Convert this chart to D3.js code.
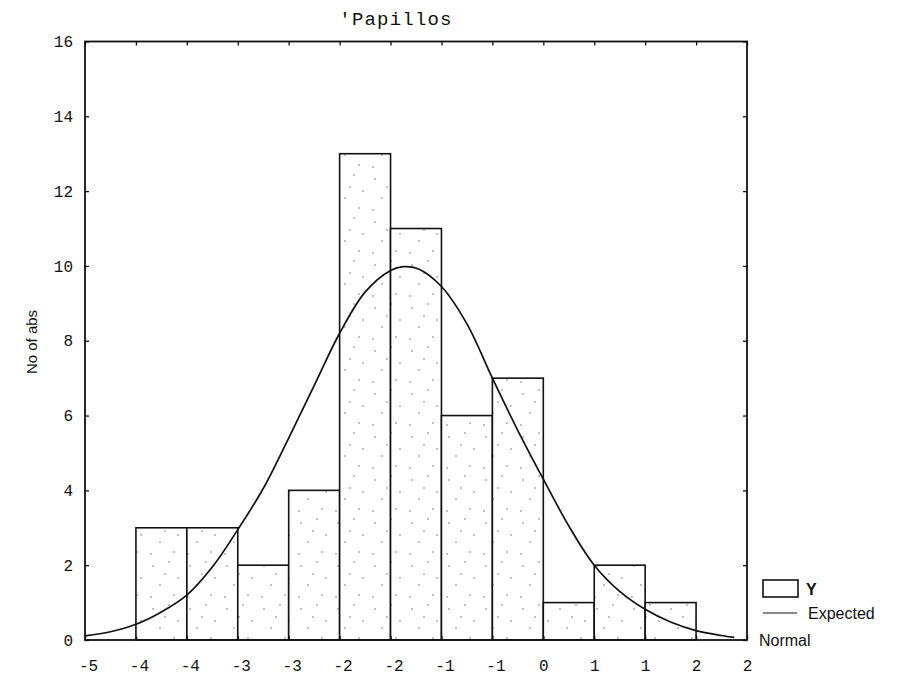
<!DOCTYPE html>
<html>
<head>
<meta charset="utf-8">
<script src="https://cdn.jsdelivr.net/npm/d3@7"></script>
<style>
  body { margin: 0; background: #fff; }
  svg { display: block; }
</style>
</head>
<body>
<div id="chart-container"></div>
<script>
'use strict';

// bin edge labels as printed under the axis (edges 0..13)
const edgeLabels = ['-5', '-4', '-4', '-3', '-3', '-2', '-2', '-1', '-1', '0', '1', '1', '2', '2'];
// observed counts per bin (13 bins between the edges)
const counts = [0, 3, 3, 2, 4, 13, 11, 6, 7, 1, 2, 1, 0];
const yTicks = [0, 2, 4, 6, 8, 10, 12, 14, 16];
// expected normal curve (position in bin-edge units)
const curvePos = [0, 0.5, 1, 1.5, 2, 2.5, 3, 3.5, 4, 4.5, 5, 5.5, 6, 6.25, 6.55, 7, 7.5, 8, 8.5, 9, 9.5, 10, 10.5, 11, 11.5, 12, 12.5, 12.75];
const curveVals = [0.11, 0.22, 0.42, 0.75, 1.2, 1.95, 2.95, 4.05, 5.4, 6.8, 8.2, 9.3, 9.88, 9.98, 9.92, 9.45, 8.45, 7.0, 5.6, 4.3, 3.05, 2.0, 1.3, 0.82, 0.48, 0.25, 0.12, 0.07];

const width = 898;
const height = 681;
const plotLeft = 85, plotRight = 747, plotTop = 41.5, plotBottom = 640;

const svg = d3.select('#chart-container')
  .append('svg')
  .attr('width', width)
  .attr('height', height);

// faint speckle texture like the scan
const defs = svg.append('defs');
const pat = defs.append('pattern')
  .attr('id', 'speckle')
  .attr('patternUnits', 'userSpaceOnUse')
  .attr('width', 37).attr('height', 43);
pat.append('rect').attr('width', 37).attr('height', 43).attr('fill', '#fff');
[[5, 7], [21, 3], [30, 19], [12, 26], [26, 36], [3, 38], [17, 15]].forEach(function(p) {
  pat.append('circle').attr('cx', p[0]).attr('cy', p[1]).attr('r', 0.8).attr('fill', '#777');
});

const x = d3.scaleLinear().domain([0, 13]).range([plotLeft, plotRight]);
const y = d3.scaleLinear().domain([0, 16]).range([plotBottom, plotTop]);

// bars
svg.append('g')
  .selectAll('rect')
  .data(counts.map(function(c, i) { return { i: i, c: c }; }).filter(function(d) { return d.c > 0; }))
  .enter()
  .append('rect')
  .attr('x', function(d) { return x(d.i); })
  .attr('y', function(d) { return y(d.c); })
  .attr('width', function(d) { return x(d.i + 1) - x(d.i); })
  .attr('height', function(d) { return y(0) - y(d.c); })
  .attr('fill', 'url(#speckle)')
  .attr('stroke', '#111')
  .attr('stroke-width', 1.6);

// expected normal curve
const line = d3.line()
  .x(function(d) { return x(d[0]); })
  .y(function(d) { return y(d[1]); })
  .curve(d3.curveCatmullRom);

svg.append('path')
  .datum(curvePos.map(function(p, i) { return [p, curveVals[i]]; }))
  .attr('d', line)
  .attr('fill', 'none')
  .attr('stroke', '#111')
  .attr('stroke-width', 1.7);

// frame
svg.append('rect')
  .attr('x', plotLeft).attr('y', plotTop)
  .attr('width', plotRight - plotLeft).attr('height', plotBottom - plotTop)
  .attr('fill', 'none')
  .attr('stroke', '#111')
  .attr('stroke-width', 1.8);

const monoFont = '"Liberation Mono", "DejaVu Sans Mono", monospace';
const sans = '"Liberation Sans", Arial, sans-serif';

function styleAxis(g) {
  g.select('.domain').remove();
  g.selectAll('.tick line').attr('stroke', '#111').attr('stroke-width', 1.3);
  g.selectAll('.tick text')
    .attr('fill', '#111')
    .style('font-family', monoFont)
    .style('font-size', '16px');
}

svg.append('g')
  .attr('transform', 'translate(0,' + plotBottom + ')')
  .call(d3.axisBottom(x).tickValues(d3.range(14))
    .tickFormat(function(i) { return edgeLabels[i]; })
    .tickSize(-4).tickPadding(20))
  .call(styleAxis)
  .call(function(g) {
    g.selectAll('.tick text').attr('dx', function(i) { return edgeLabels[i][0] === '-' ? 3 : 0; });
  });

svg.append('g')
  .attr('transform', 'translate(0,' + plotTop + ')')
  .call(d3.axisTop(x).tickValues(d3.range(14)).tickFormat('').tickSize(-4))
  .call(styleAxis);

svg.append('g')
  .attr('transform', 'translate(' + plotLeft + ',0)')
  .call(d3.axisLeft(y).tickValues(yTicks).tickSize(-4).tickPadding(12))
  .call(styleAxis);

svg.append('g')
  .attr('transform', 'translate(' + plotRight + ',0)')
  .call(d3.axisRight(y).tickValues(yTicks).tickFormat('').tickSize(-4))
  .call(styleAxis);

// title
svg.append('text')
  .attr('x', 396).attr('y', 25)
  .attr('text-anchor', 'middle')
  .style('font-family', monoFont)
  .style('font-size', '19px')
  .style('letter-spacing', '1.2px')
  .attr('fill', '#111')
  .text("'Papillos");

// y axis title
svg.append('text')
  .attr('transform', 'translate(37,342) rotate(-90)')
  .attr('text-anchor', 'middle')
  .style('font-family', sans)
  .style('font-size', '15px')
  .attr('fill', '#111')
  .text('No of abs');

// legend
const legend = svg.append('g');
legend.append('rect')
  .attr('x', 763).attr('y', 580).attr('width', 35).attr('height', 17)
  .attr('fill', '#fff').attr('stroke', '#111').attr('stroke-width', 1.6);
legend.append('text')
  .attr('x', 806).attr('y', 595)
  .style('font-family', sans).style('font-size', '16px').style('font-weight', 'bold')
  .attr('fill', '#111').text('Y');
legend.append('line')
  .attr('x1', 763).attr('x2', 797).attr('y1', 613).attr('y2', 613)
  .attr('stroke', '#111').attr('stroke-width', 1);
legend.append('text')
  .attr('x', 808).attr('y', 619)
  .style('font-family', sans).style('font-size', '16px')
  .attr('fill', '#111').text('Expected');
legend.append('text')
  .attr('x', 759).attr('y', 646)
  .style('font-family', sans).style('font-size', '16px')
  .attr('fill', '#111').text('Normal');
</script>
</body>
</html>
